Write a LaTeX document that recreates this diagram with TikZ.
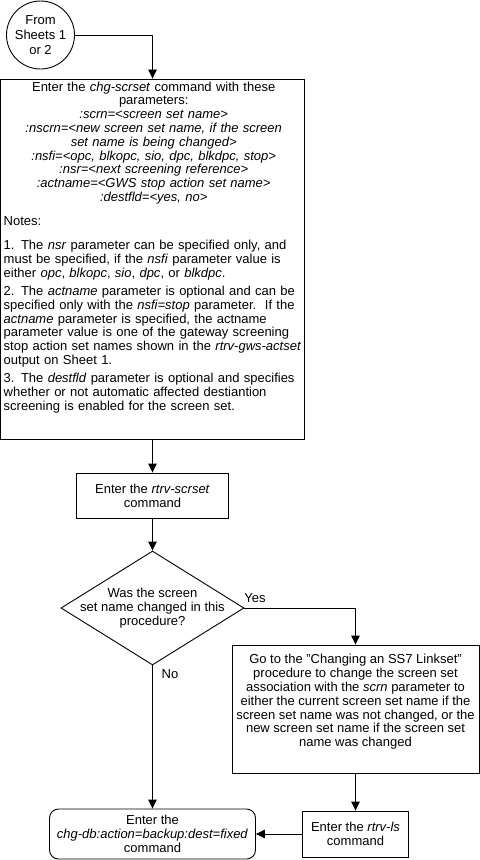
\documentclass[tikz,border=0pt]{standalone}
\usepackage{fontspec}
\setmainfont{Liberation Sans}
\usetikzlibrary{shapes.geometric,arrows.meta}
\begin{document}
\begin{tikzpicture}[x=1bp,y=-1bp,
  font=\fontsize{13bp}{13.8bp}\selectfont,
  every node/.style={inner sep=0pt},
  box/.style={draw, line width=0.9bp, rectangle, align=center},
  txt/.style={align=center},
  arr/.style={draw, line width=0.9bp, -{Triangle[length=9bp,width=8.5bp]}}]
\useasboundingbox (0,0) rectangle (480,860);

% start circle
\node[draw, circle, line width=0.9bp, minimum size=68bp, align=center,
      font=\fontsize{13bp}{14.8bp}\selectfont] (from) at (40.5,35) {From\\Sheets 1\\or 2};

% main box
\node[box, minimum width=304bp, minimum height=360bp] (main) at (152.5,259) {};
\node[anchor=north west, text width=300bp, align=left] (maintext) at (3.5,81.5) {%
{\centering Enter the \textit{chg-scrset} command with these\\
parameters:\\
\textit{:scrn=<screen set name>}\\
\textit{:nscrn=<new screen set name, if the screen}\\
\textit{set name is being changed>}\\
\textit{:nsfi=<opc, blkopc, sio, dpc, blkdpc, stop>}\\
\textit{:nsr=<next screening reference>}\\
\textit{:actname=<GWS stop action set name>}\\
\textit{:destfld=<yes, no>}\par}
\vspace{10bp}
Notes:\par
\vspace{10.5bp}
1. The \textit{nsr} parameter can be specified only, and\\
must be specified, if the \textit{nsfi} parameter value is\\
either \textit{opc}, \textit{blkopc}, \textit{sio}, \textit{dpc}, or \textit{blkdpc}.\par
\vspace{4.5bp}
2. The \textit{actname} parameter is optional and can be\\
specified only with the \textit{nsfi=stop} parameter.\ \ If the\\
\textit{actname} parameter is specified, the actname\\
parameter value is one of the gateway screening\\
stop action set names shown in the \textit{rtrv-gws-actset}\\
output on Sheet 1.\par
\vspace{4.5bp}
3. The \textit{destfld} parameter is optional and specifies\\
whether or not automatic affected destiantion\\
screening is enabled for the screen set.\par};

% rtrv-scrset box
\node[box, minimum width=152bp, minimum height=45bp] (scrset) at (152.5,495.5)
  {Enter the \textit{rtrv-scrset}\\command};

% decision
\node[draw, diamond, line width=0.9bp, minimum width=183bp, minimum height=114bp] (dec) at (152.5,608) {};
\node[txt] (dectext) at (152.5,608) {Was the screen\\set name changed in this\\procedure?};

% go-to box
\node[box, minimum width=247bp, minimum height=128bp] (goto) at (355.5,709) {};
\node[txt] (gototext) at (355.5,702) {Go to the "Changing an SS7 Linkset"\\
procedure to change the screen set\\
association with the \textit{scrn} parameter to\\
either the current screen set name if the\\
screen set name was not changed, or the\\
new screen set name if the screen set\\
name was changed};

% rtrv-ls box
\node[box, minimum width=106bp, minimum height=46bp] (rtrvls) at (355.5,834)
  {Enter the \textit{rtrv-ls}\\command};

% final box
\node[draw, line width=0.9bp, rounded corners=9bp, minimum width=206bp, minimum height=50bp, align=center] (final) at (152.5,834)
  {Enter the\\\textit{chg-db:action=backup:dest=fixed}\\command};

% connectors
\draw[arr] (from.east) -| (main.north);
\draw[arr] (main.south) -- (scrset.north);
\draw[arr] (scrset.south) -- (dec.north);
\draw[arr] (dec.east) -| (goto.north);
\draw[arr] (goto.south) -- (rtrvls.north);
\draw[arr] (rtrvls.west) -- (final.east);
\draw[arr] (dec.south) -- (final.north);

% labels
\node (yes) at (255,598) {Yes};
\node (no) at (170,674) {No};
\end{tikzpicture}
\end{document}
